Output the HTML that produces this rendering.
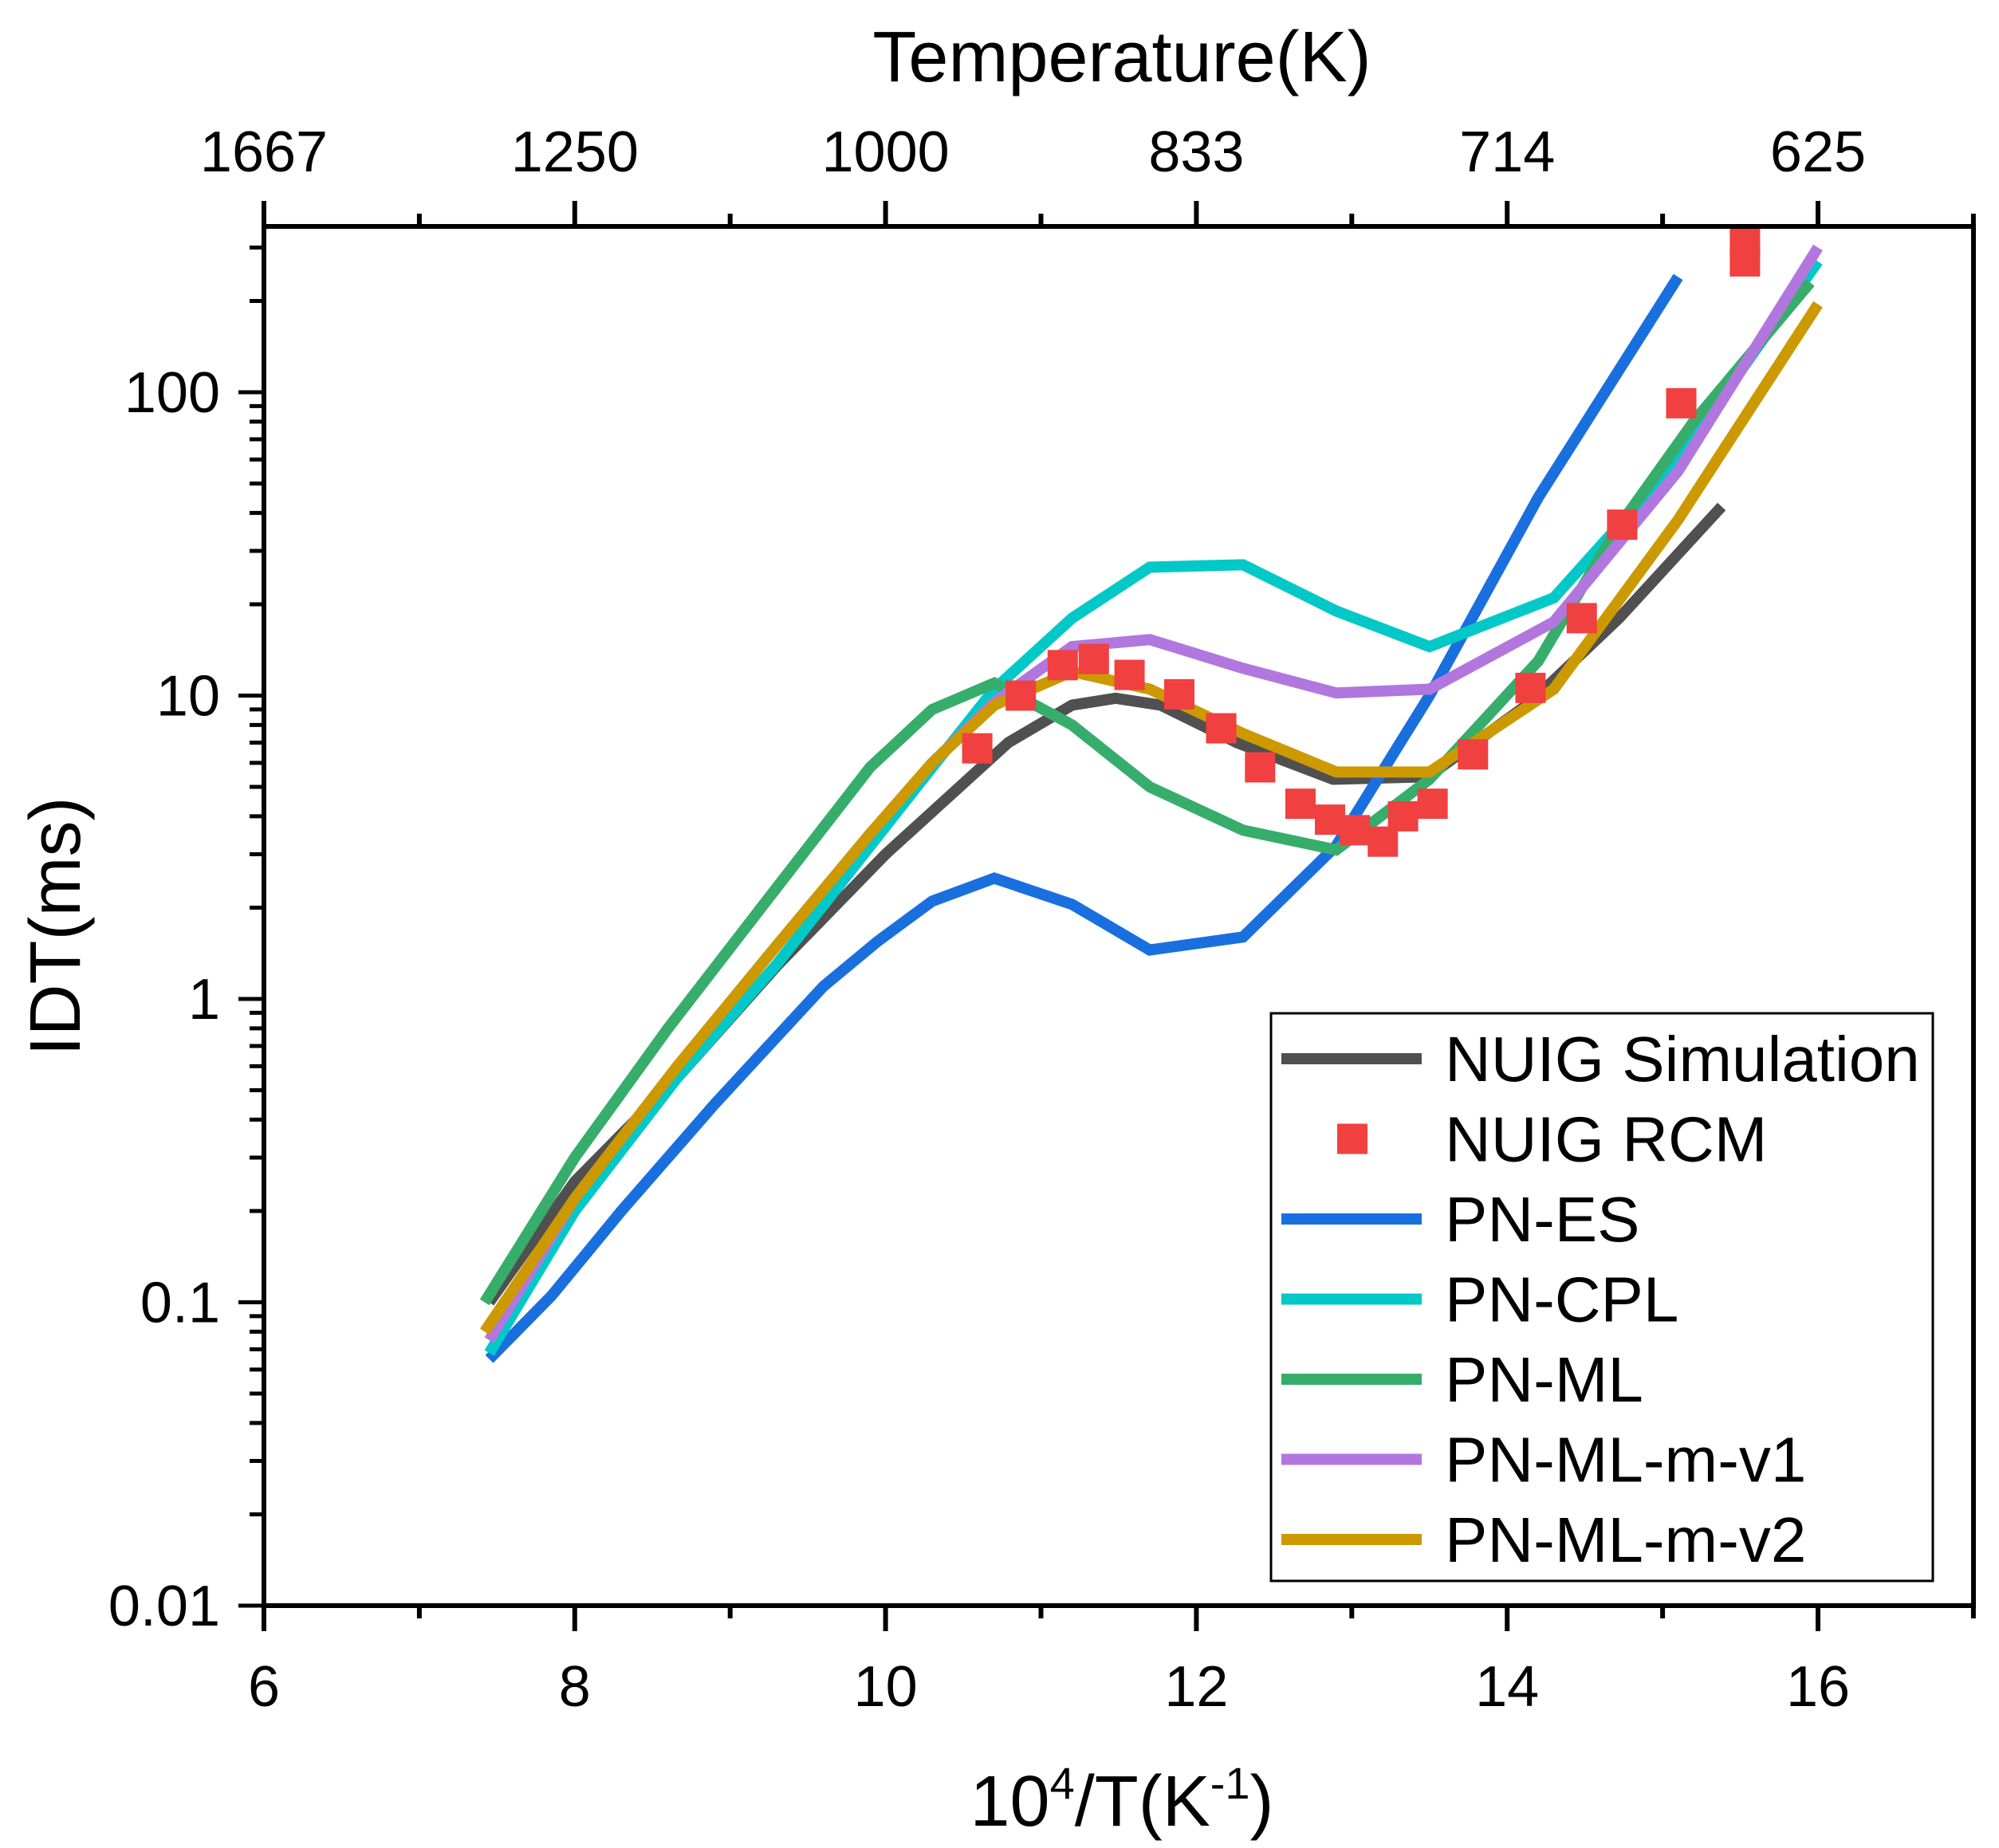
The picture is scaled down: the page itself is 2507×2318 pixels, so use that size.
<!DOCTYPE html>
<html><head><meta charset="utf-8"><style>
html,body{margin:0;padding:0;background:#fff;}
svg{display:block;font-family:"Liberation Sans",Arial,sans-serif;}
</style></head><body>
<svg id="chart" width="2507" height="2318" viewBox="0 0 2507 2318" xmlns="http://www.w3.org/2000/svg">
<g id="marks"></g>
<g id="axes"></g>
<g id="legend"></g>
</svg>
<script>
const xTicks=[6,8,10,12,14,16];
const xTickLabels=["6","8","10","12","14","16"];
const topTickLabels=["1667","1250","1000","833","714","625"];
const yTicks=[0.01,0.1,1,10,100];
const yTickLabels=["0.01","0.1","1","10","100"];
const simX=[7.45,8.0,8.66,9.31,10.0,10.79,11.2,11.48,11.77,12.26,12.88,13.49,14.15,14.72,15.38];
const simY=[0.1,0.25,0.55,1.3,3.0,7.0,9.3,9.8,9.3,7.0,5.3,5.4,9.5,18,42];
const esX=[7.45,7.85,8.3,8.9,9.3,9.6,9.95,10.3,10.7,11.2,11.7,12.3,12.9,13.5,14.2,15.1];
const esY=[0.065,0.105,0.2,0.45,0.75,1.1,1.55,2.1,2.5,2.05,1.45,1.6,3.2,10,45,240];
const cplX=[7.45,8.0,8.66,9.3,10.3,10.7,11.2,11.7,12.3,12.9,13.5,14.3,15.1,16.0];
const cplY=[0.068,0.2,0.55,1.3,5.8,10.5,18,26.5,27,19,14.5,21,60,270];
const mlX=[7.42,8.0,8.6,9.2,9.9,10.3,10.7,11.2,11.7,12.3,12.9,13.5,14.2,14.7,15.2,15.95];
const mlY=[0.1,0.3,0.8,2.0,5.8,9,11,8,5,3.6,3.1,5.3,13,35,80,230];
const v1X=[7.45,8.0,8.66,9.3,9.9,10.3,10.7,11.2,11.7,12.3,12.9,13.5,14.3,15.1,16.0];
const v1Y=[0.075,0.22,0.6,1.5,3.5,6,9.5,14.5,15.3,12.3,10.2,10.5,17.5,55,300];
const v2X=[7.42,8.0,8.66,9.3,9.9,10.3,10.7,11.2,11.7,12.3,12.9,13.5,14.3,15.1,16.0];
const v2Y=[0.08,0.22,0.6,1.5,3.5,6,9.3,12,10.5,7.5,5.6,5.6,10.5,38,195];
const rcmX=[10.59,10.87,11.14,11.34,11.57,11.89,12.16,12.41,12.67,12.86,13.02,13.2,13.33,13.52,13.78,14.15,14.48,14.74,15.12,15.53,15.53];
const rcmY=[6.7,10,12.6,13.2,11.7,10.1,7.8,5.8,4.4,3.9,3.6,3.3,4.0,4.4,6.4,10.6,18,36.6,92,270,313];

const NS="http://www.w3.org/2000/svg";
const L=331,R=2475,T=284,B=2014;
function X(v){return L+(v-6)*194.9;}
function Y(v){return 492-(Math.log10(v)-2)*380.5;}
function mk(tag,attrs,parent){const e=document.createElementNS(NS,tag);for(const k in attrs)e.setAttribute(k,attrs[k]);parent.appendChild(e);return e;}
const marks=document.getElementById('marks'),axes=document.getElementById('axes'),leg=document.getElementById('legend');

function line(xs,ys,color,name){
  const p=mk('polyline',{points:xs.map((x,i)=>X(x)+','+Y(ys[i])).join(' '),fill:'none',stroke:color,'stroke-width':14,'stroke-linejoin':'miter'},marks);
  
  
}
line(simX,simY,'#505050','nuig-simulation-line');
line(esX,esY,'#1a6fdf','pn-es-line');
line(cplX,cplY,'#03c8c8','pn-cpl-line');
line(mlX,mlY,'#37ad6b','pn-ml-line');
line(v1X,v1Y,'#b177de','pn-ml-m-v1-line');
line(v2X,v2Y,'#cc9900','pn-ml-m-v2-line');
rcmX.forEach((x,i)=>{
  const r=mk('rect',{x:X(x)-19,y:Y(rcmY[i])-19,width:38,height:38,fill:'#f04040'},marks);
  
  
});

mk('rect',{x:L,y:T,width:R-L,height:B-T,fill:'none',stroke:'#000','stroke-width':6},axes);
for(let v=6;v<=17;v++){
  const major=v%2===0;const x=X(v);
  mk('line',{x1:x,y1:B,x2:x,y2:B+(major?32:16),stroke:'#000','stroke-width':6},axes);
  mk('line',{x1:x,y1:T,x2:x,y2:T-(major?32:16),stroke:'#000','stroke-width':6},axes);
}
xTicks.forEach((v,i)=>{
  const t=mk('text',{x:X(v),y:2140,'font-size':72,'text-anchor':'middle'},axes);t.textContent=xTickLabels[i];
  
  
  const u=mk('text',{x:X(v),y:215,'font-size':72,'text-anchor':'middle'},axes);u.textContent=topTickLabels[i];
  
  
});
for(let d=-2;d<=2;d++){
  for(let m=1;m<=9;m++){
    const v=m*Math.pow(10,d);if(v>352)break;const y=Y(v);
    mk('line',{x1:L,y1:y,x2:L-(m===1?32:18),y2:y,stroke:'#000','stroke-width':5},axes);
  }
}
yTicks.forEach((v,i)=>{
  const t=mk('text',{x:276,y:Y(v)+25,'font-size':72,'text-anchor':'end'},axes);t.textContent=yTickLabels[i];
  
  
});
let t=mk('text',{x:1407,y:102,'font-size':90,'text-anchor':'middle'},axes);t.textContent='Temperature(K)';


t=mk('text',{x:1407,y:2290,'font-size':90,'text-anchor':'middle'},axes);
t.innerHTML='10<tspan dy="-34" font-size="56">4</tspan><tspan dy="34">/T(K</tspan><tspan dy="-34" font-size="56">-1</tspan><tspan dy="34">)</tspan>';


t=mk('text',{x:0,y:0,'font-size':90,'text-anchor':'middle',transform:'translate(100,1162) rotate(-90)'},axes);t.textContent='IDT(ms)';



mk('rect',{x:1594,y:1271,width:830,height:712,fill:'#fff',stroke:'#000','stroke-width':3},leg);
const legNames=['NUIG Simulation','NUIG RCM','PN-ES','PN-CPL','PN-ML','PN-ML-m-v1','PN-ML-m-v2'];
const legColors=['#505050','#f04040','#1a6fdf','#03c8c8','#37ad6b','#b177de','#cc9900'];
legNames.forEach((n,i)=>{
  const y=1328+i*100.5;
  if(i===1){const r=mk('rect',{x:1677,y:y-19,width:38,height:38,fill:legColors[i]},leg);
    
    }
  else{const l=mk('line',{x1:1607,y1:y,x2:1783,y2:y,stroke:legColors[i],'stroke-width':14},leg);
    
    }
  const tx=mk('text',{x:1812,y:y+28,'font-size':80},leg);tx.textContent=n;
  
  
});
</script>
</body></html>
